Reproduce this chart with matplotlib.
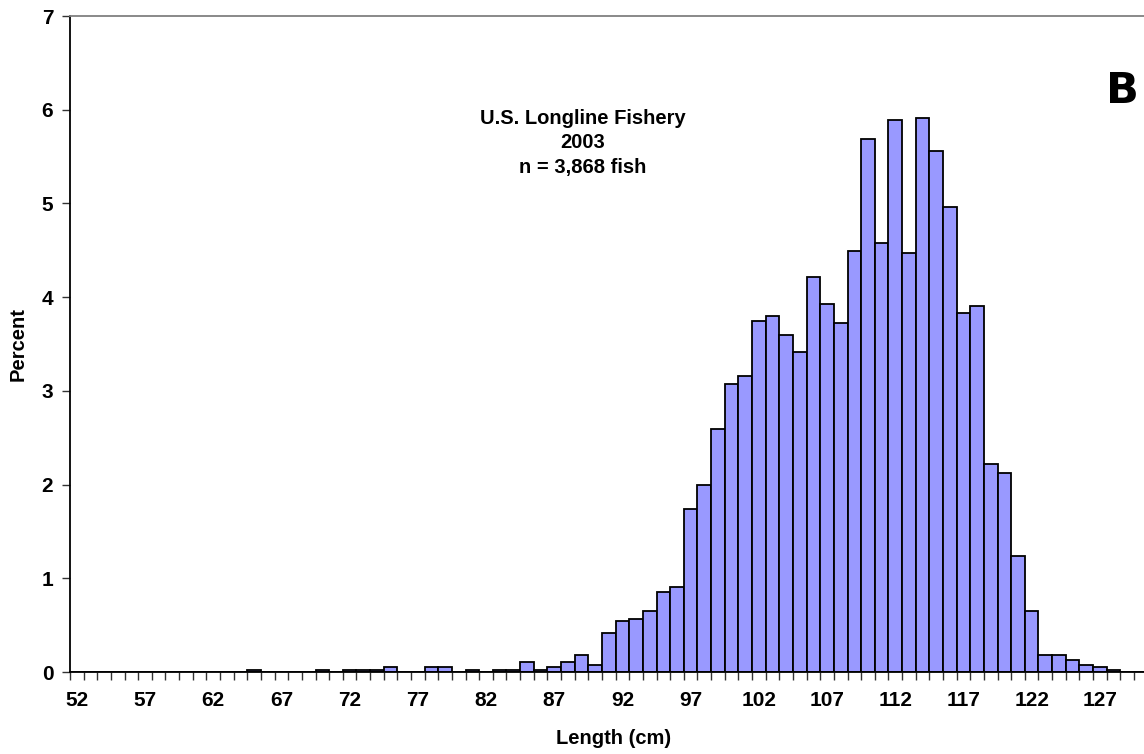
import matplotlib
matplotlib.use("Agg")
import matplotlib.pyplot as plt
import numpy as np

# Length classes (cm) and percent of fish in each class
lengths = list(range(52, 131))
percent = [
    0, 0, 0, 0, 0, 0, 0, 0, 0, 0, 0, 0, 0,          # 52-64
    0.026, 0, 0, 0, 0,                               # 65-69
    0.026, 0, 0.026, 0.026, 0.026, 0.052,            # 70-75
    0, 0, 0.052, 0.052, 0, 0.026, 0, 0.026, 0.026,   # 76-84
    0.103, 0.026, 0.052, 0.103, 0.181, 0.078,        # 85-90
    0.414, 0.543, 0.569, 0.646, 0.857, 0.910,        # 91-96
    1.736, 1.995, 2.590, 3.077, 3.155, 3.749,        # 97-102
    3.800, 3.596, 3.415, 4.212, 3.927, 3.724,        # 103-108
    4.496, 5.684, 4.575, 5.890, 4.471, 5.915,        # 109-114
    5.556, 4.962, 3.826, 3.902, 2.223, 2.124,        # 115-120
    1.240, 0.651, 0.181, 0.181, 0.129, 0.078,        # 121-126
    0.052, 0.026, 0, 0,                              # 127-130
]
label_every = 5
y_ticks = list(range(0, 8))
title_lines = ["U.S. Longline Fishery", "2003", "n = 3,868 fish"]
panel_letter = "B"

plt.rcParams['font.family'] = ['Liberation Sans', 'DejaVu Sans']

W, H = 1144, 754
fig = plt.figure(figsize=(W / 100, H / 100), dpi=100)

ax_left, ax_right, ax_top, ax_bottom = 70, 1147.6, 16, 672
ax = fig.add_axes([ax_left / W, 1 - ax_bottom / H,
                   (ax_right - ax_left) / W, (ax_bottom - ax_top) / H])

n = len(lengths)
x = np.arange(n)
ax.bar(x, percent, width=1.0, align='edge', color='#9999FF',
       edgecolor='black', linewidth=1.3, zorder=2)

ax.set_xlim(0, n)
ax.set_ylim(0, 7)

# tick marks at class boundaries, labels centred under every fifth class
ax.set_xticks(np.arange(0, n + 1))
ax.set_xticklabels([])
ax.tick_params(axis='x', which='major', direction='out', length=6,
               width=1.0, color='#333333')
lab_idx = [i for i, L in enumerate(lengths) if (L - lengths[0]) % label_every == 0]
ax.set_xticks([i + 0.5 for i in lab_idx], minor=True)
ax.set_xticklabels([str(lengths[i]) for i in lab_idx], minor=True,
                   fontsize=15, fontweight='bold')
ax.tick_params(axis='x', which='minor', length=0, pad=14)

ax.set_yticks(y_ticks)
ax.set_yticklabels([str(v) for v in y_ticks], fontsize=15, fontweight='bold')
ax.tick_params(axis='y', direction='out', length=6, width=1.0,
               color='#333333', pad=6)

for s in ['left', 'bottom']:
    ax.spines[s].set_color('black')
    ax.spines[s].set_linewidth(1.3)
ax.spines['top'].set_color('#808080')
ax.spines['top'].set_linewidth(1.3)
ax.spines['right'].set_visible(False)

fig.text(18 / W, 1 - 344 / H, "Percent", rotation=90, ha='center', va='center',
         fontsize=14.5, fontweight='bold')
fig.text(614 / W, 1 - 738 / H, "Length (cm)", ha='center', va='center',
         fontsize=14.5, fontweight='bold')

for k, line in enumerate(title_lines):
    fig.text(583 / W, 1 - (118 + 25 * k) / H, line, ha='center', va='center',
             fontsize=14.5, fontweight='bold')

fig.text(1122 / W, 1 - 91 / H, panel_letter, ha='center', va='center',
         fontsize=31, fontweight='heavy', family=['DejaVu Sans'])

fig.savefig("out.png", dpi=100)
